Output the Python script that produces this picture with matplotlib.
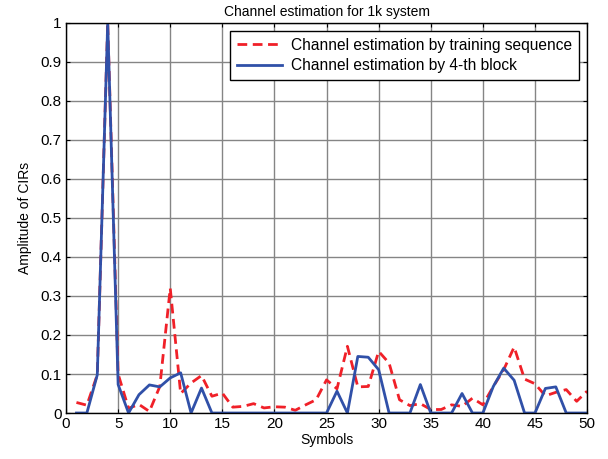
import numpy as np
import matplotlib
matplotlib.use('Agg')
import matplotlib.pyplot as plt

# dados
symbols = np.arange(1, 51)
ch_training = [0.027, 0.020, 0.098, 1.0, 0.10, 0.012, 0.022, 0.004, 0.068, 0.32,
               0.050, 0.077, 0.096, 0.043, 0.051, 0.015, 0.017, 0.024, 0.013, 0.016,
               0.015, 0.007, 0.021, 0.034, 0.085, 0.062, 0.171, 0.067, 0.068, 0.158,
               0.128, 0.034, 0.019, 0.024, 0.009, 0.009, 0.021, 0.017, 0.038, 0.021,
               0.068, 0.111, 0.169, 0.087, 0.075, 0.044, 0.053, 0.060, 0.030, 0.056]
ch_block4 = [0.0, 0.0, 0.098, 1.0, 0.073, 0.0, 0.047, 0.072, 0.067, 0.090,
             0.103, 0.0, 0.064, 0.0, 0.0, 0.0, 0.0, 0.0, 0.0, 0.0,
             0.0, 0.0, 0.0, 0.0, 0.0, 0.056, 0.0, 0.145, 0.143, 0.111,
             0.0, 0.0, 0.0, 0.073, 0.0, 0.0, 0.0, 0.050, 0.0, 0.0,
             0.068, 0.115, 0.084, 0.0, 0.0, 0.063, 0.067, 0.0, 0.0, 0.0]
xticks = np.arange(0, 51, 5)
yticks = np.arange(0, 1.01, 0.1)
ytick_labels = ['0', '0.1', '0.2', '0.3', '0.4', '0.5', '0.6', '0.7', '0.8', '0.9', '1']

plt.rcParams['font.family'] = ['Liberation Sans', 'DejaVu Sans']
plt.rcParams.update({'font.size': 9.5})

fig = plt.figure(figsize=(6.08, 4.59), dpi=100)
ax = fig.add_axes([0.1086, 0.1002, 0.857, 0.8498])

ax.plot(symbols, ch_training, '--', color='#f02028', lw=2.0, dashes=(3.5, 2),
        label='Channel estimation by training sequence')
ax.plot(symbols, ch_block4, '-', color='#3050a8', lw=2.0,
        label='Channel estimation by 4-th block')

ax.set_xlim([0, 50])
ax.set_ylim([0, 1])
ax.set_xticks(xticks)
ax.set_yticks(yticks)
ax.set_yticklabels(ytick_labels)
ax.tick_params(direction='in', length=3, width=0.8, top=True, right=True, pad=3,
               labelsize=11)
ax.grid(True, color='#858585', lw=1.0, ls='-')
ax.set_axisbelow(True)
for s in ax.spines.values():
    s.set_linewidth(1.0)

ax.set_title('Channel estimation for 1k system', fontsize=10, pad=5)
ax.set_xlabel('Symbols', fontsize=10, labelpad=1)
ax.set_ylabel('Amplitude of CIRs', fontsize=10, labelpad=6)

leg = ax.legend(loc='upper right', fontsize=11.2, fancybox=False, framealpha=1,
                edgecolor='black', borderaxespad=0.5, handlelength=2.9,
                handletextpad=0.6, labelspacing=0.35, borderpad=0.45)
leg.get_frame().set_linewidth(1.0)

plt.savefig('out.png', dpi=100)
